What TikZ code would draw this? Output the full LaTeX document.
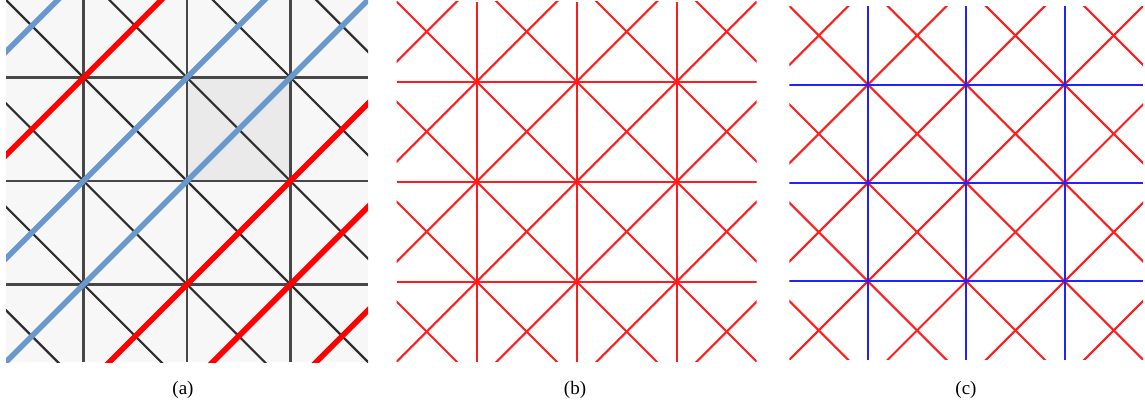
\documentclass[tikz,border=0pt]{standalone}
\usepackage{fontspec}
\setmainfont{Liberation Serif}
\usetikzlibrary{positioning}

\definecolor{PaleGrey}{RGB}{247,247,247}
\definecolor{CellGrey}{RGB}{234,234,234}
\definecolor{SteelBand}{RGB}{104,152,206}
\definecolor{MeshRed}{RGB}{255,28,28}
\definecolor{MeshBlue}{RGB}{34,34,255}

\begin{document}
\begin{tikzpicture}[
  x=1pt,y=-1pt,
  font=\fontsize{19}{21}\selectfont,
  grid line/.style={line width=2.8pt,draw=black!72},
  edge line/.style={line width=2.2pt,draw=black!82},
  blue band/.style={line width=5.5pt,draw=SteelBand},
  red band/.style={line width=5.5pt,draw=red},
  red line/.style={line width=2.1pt,draw=MeshRed},
  blue line/.style={line width=2.1pt,draw=MeshBlue},
  caption/.style={anchor=center,inner sep=0pt}
]
\useasboundingbox (0,0) rectangle (1145,408);

% (a) triangulated grid with coloured strips
\begin{scope}[shift={(6,0)},x=103.43pt,y=-103.43pt]
  \clip (0,0) rectangle (3.5,3.5);
  \fill[PaleGrey] (0,0) rectangle (3.5,3.5);
  \fill[CellGrey] (1.75,0.75) rectangle (2.75,1.75);
  \foreach \k in {-3,...,3}
    \draw[edge line] (\k-4,-4) -- (\k+4,4);
  \foreach \i in {0.75,1.75,2.75} {
    \draw[grid line] (\i,0) -- (\i,3.5);
    \draw[grid line] (0,\i) -- (3.5,\i);
  }
  \foreach \s in {0.5,2.5,3.5}
    \draw[blue band] (-1,\s+1) -- (\s+1,-1);
  \foreach \s in {1.5,4.5,5.5,6.5}
    \draw[red band] (-1,\s+1) -- (\s+1,-1);
\end{scope}

% (b) all edges red
\begin{scope}[shift={(396.7,1.7)},x=100pt,y=-100pt]
  \clip (0,0) rectangle (3.6,3.6);
  \foreach \k in {-3,...,3}
    \draw[red line] (\k-4,-4) -- (\k+4,4);
  \foreach \s in {0.6,1.6,...,6.6}
    \draw[red line] (-1,\s+1) -- (\s+1,-1);
  \foreach \i in {0.8,1.8,2.8} {
    \draw[red line] (\i,0) -- (\i,3.6);
    \draw[red line] (0,\i) -- (3.6,\i);
  }
\end{scope}

% (c) diagonals red, axis edges blue
\begin{scope}[shift={(789.3,6)},x=98.3pt,y=-98.3pt]
  \clip (0,0) rectangle (3.6,3.6);
  \foreach \k in {-3,...,3}
    \draw[red line] (\k-4,-4) -- (\k+4,4);
  \foreach \s in {0.6,1.6,...,6.6}
    \draw[red line] (-1,\s+1) -- (\s+1,-1);
  \foreach \i in {0.8,1.8,2.8} {
    \draw[blue line] (\i,0) -- (\i,3.6);
    \draw[blue line] (0,\i) -- (3.6,\i);
  }
\end{scope}

\node[caption] (capa) at (183,390) {(a)};
\node[caption] (capb) at (575,390) {(b)};
\node[caption] (capc) at (966,390) {(c)};
\end{tikzpicture}
\end{document}
